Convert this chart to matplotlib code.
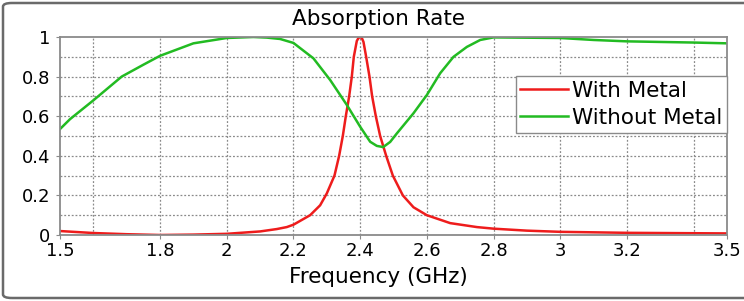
import matplotlib
matplotlib.use("Agg")
import matplotlib.pyplot as plt
from matplotlib.patches import FancyBboxPatch

# data
f_with = [1.5, 1.6, 1.7, 1.8, 1.9, 2.0, 2.1, 2.15, 2.18, 2.2, 2.25, 2.28, 2.3, 2.323,
          2.337, 2.348, 2.357, 2.367, 2.375, 2.381, 2.39, 2.395, 2.4, 2.405, 2.41, 2.418,
          2.428, 2.436, 2.447, 2.46, 2.478, 2.498, 2.528, 2.56, 2.6, 2.67, 2.75, 2.8,
          2.9, 3.0, 3.2, 3.5]
a_with = [0.02, 0.01, 0.004, 0.0, 0.002, 0.006, 0.018, 0.03, 0.04, 0.052, 0.1, 0.15,
          0.21, 0.3, 0.4, 0.5, 0.6, 0.7, 0.8, 0.9, 0.98, 0.995, 1.0, 0.995, 0.975, 0.9,
          0.8, 0.7, 0.6, 0.5, 0.4, 0.3, 0.2, 0.14, 0.1, 0.06, 0.04, 0.032,
          0.022, 0.016, 0.011, 0.008]

f_without = [1.5, 1.53, 1.6, 1.685, 1.75, 1.8, 1.9, 2.0, 2.08, 2.12, 2.16, 2.2, 2.26,
             2.31, 2.36, 2.4, 2.43, 2.45, 2.469, 2.49, 2.51, 2.56, 2.6, 2.64, 2.68,
             2.72, 2.76, 2.8, 3.0, 3.1, 3.2, 3.4, 3.5]
a_without = [0.535, 0.585, 0.68, 0.8, 0.86, 0.905, 0.968, 0.995, 1.0, 0.997, 0.99, 0.97,
             0.892, 0.783, 0.657, 0.547, 0.471, 0.45, 0.444, 0.47, 0.513, 0.615, 0.707,
             0.817, 0.9, 0.95, 0.985, 0.998, 0.995, 0.985, 0.978, 0.972, 0.968]

xticks = [1.5, 1.8, 2.0, 2.2, 2.4, 2.6, 2.8, 3.0, 3.2, 3.5]
xtick_labels = ["1.5", "1.8", "2", "2.2", "2.4", "2.6", "2.8", "3", "3.2", "3.5"]
yticks = [0, 0.2, 0.4, 0.6, 0.8, 1.0]
ytick_labels = ["0", "0.2", "0.4", "0.6", "0.8", "1"]

plt.rcParams['font.family'] = ['DejaVu Sans']
fig = plt.figure(figsize=(7.44, 3.01), dpi=100)
ax = fig.add_axes([60/744, 1 - 235/301, 667/744, 198/301])

# outer rounded frame (right side runs off the picture)
box = FancyBboxPatch((3/744, 3/301), 760/744, 295/301,
                     boxstyle="round,pad=0,rounding_size=0.012",
                     transform=fig.transFigure, fill=False,
                     edgecolor="#6a6a6a", linewidth=1.8, clip_on=False)
fig.patches.append(box)

ax.plot(f_with, a_with, color="#ee1c1c", lw=1.8, label="With Metal")
ax.plot(f_without, a_without, color="#22bb22", lw=1.8, label="Without Metal")

ax.set_xlim(1.5, 3.5)
ax.set_ylim(0, 1)
ax.set_xticks(xticks)
ax.set_xticklabels(xtick_labels)
ax.set_yticks(yticks)
ax.set_yticklabels(ytick_labels)

# dotted grid: vertical every 0.2 from 1.6, horizontal every 0.1
for gx in [1.6, 1.8, 2.0, 2.2, 2.4, 2.6, 2.8, 3.0, 3.2, 3.4]:
    ax.axvline(gx, color="#8a8a8a", ls=(0, (1.5, 1.5)), lw=0.9, zorder=0)
for gy in [0.1, 0.2, 0.3, 0.4, 0.5, 0.6, 0.7, 0.8, 0.9]:
    ax.axhline(gy, color="#8a8a8a", ls=(0, (1.5, 1.5)), lw=0.9, zorder=0)

for s in ax.spines.values():
    s.set_color("#8a8a8a")
    s.set_linewidth(1.3)
ax.tick_params(labelsize=13, color="#8a8a8a", length=3)
ax.tick_params(axis="x", pad=2)
ax.tick_params(axis="y", pad=4)

fig.text(378/744, 1 - 19/301, "Absorption Rate", fontsize=15.5,
         ha="center", va="center")
ax.set_xlabel("Frequency (GHz)", fontsize=15.5)
ax.xaxis.set_label_coords((378 - 60)/667, -(277 - 235)/198)
ax.xaxis.label.set_va("center")

leg = ax.legend(loc="upper right", bbox_to_anchor=(1.0, (235 - 76)/198), fontsize=15.5,
                frameon=True, fancybox=False, borderpad=0.22, handlelength=2.2,
                handletextpad=0.2, labelspacing=0.33, borderaxespad=0, framealpha=1)
leg.get_frame().set_edgecolor("#8a8a8a")
leg.get_frame().set_linewidth(1.0)

fig.savefig("out.png", dpi=100)
